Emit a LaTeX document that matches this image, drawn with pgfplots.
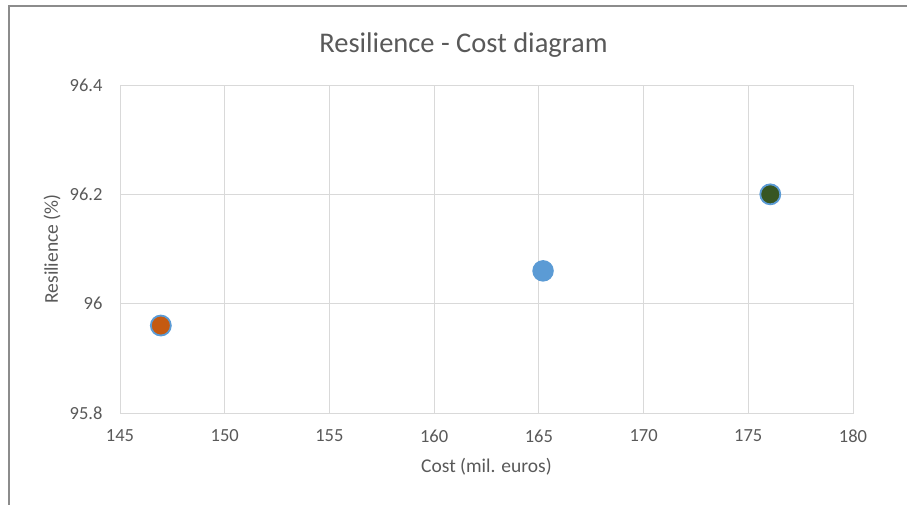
\documentclass[border=0pt]{standalone}
\usepackage{pgfplots}
\pgfplotsset{compat=1.18}
\usepackage{fontspec}
\setmainfont{Carlito}
\definecolor{txt}{HTML}{595959}
\definecolor{grd}{HTML}{D9D9D9}
\definecolor{xblue}{HTML}{5B9BD5}
\definecolor{xorange}{HTML}{C55A11}
\definecolor{xgreen}{HTML}{375623}
\definecolor{frm}{HTML}{8C8C8C}
\begin{document}
\begin{tikzpicture}[x=1pt,y=1pt]
\path[use as bounding box] (0,0) rectangle (907,504);
\draw[frm, line width=2.2pt] (9,-5) -- (9,498) -- (912,498);
\begin{axis}[
  scale only axis,
  width=733pt, height=328pt,
  at={(120pt,91pt)}, anchor=south west,
  xmin=145, xmax=180, ymin=95.8, ymax=96.4,
  xtick={145,150,...,180},
  ytick={95.8,96,96.2,96.4},
  yticklabels={95.8,96,96.2,96.4},
  /pgf/number format/assume math mode=true,
  grid=major,
  major grid style={grd, line width=1pt},
  axis line style={grd, line width=1pt},
  tick style={draw=none},
  ticklabel style={font=\fontsize{18.5}{22}\selectfont, text=txt},
  xticklabel style={yshift=-13pt},
  yticklabel style={xshift=-14pt},
  title={Resilience - Cost diagram},
  title style={at={(axis description cs:0.5,1)}, anchor=center, yshift=34pt, xshift=-23pt, font=\fontsize{28.5}{32}\selectfont, text=txt},
  xlabel={Cost (mil. euros)},
  xlabel style={at={(axis description cs:0.5,0)}, anchor=center, yshift=-54pt, font=\fontsize{19.5}{23}\selectfont, text=txt},
  ylabel={Resilience (\%)},
  ylabel style={at={(axis description cs:-0.0928,0.5)}, anchor=center, font=\fontsize{19.5}{23}\selectfont, text=txt},
  clip=false,
]
\addplot[only marks, mark=*, mark size=10pt, mark options={fill=xblue, draw=xblue, line width=1.5pt}] coordinates {(165.2,96.06)};
\addplot[only marks, mark=*, mark size=10pt, mark options={fill=xorange, draw=xblue, line width=1.8pt}] coordinates {(146.95,95.96)};
\addplot[only marks, mark=*, mark size=10pt, mark options={fill=xgreen, draw=xblue, line width=1.8pt}] coordinates {(176.05,96.2)};
\end{axis}
\end{tikzpicture}
\end{document}
